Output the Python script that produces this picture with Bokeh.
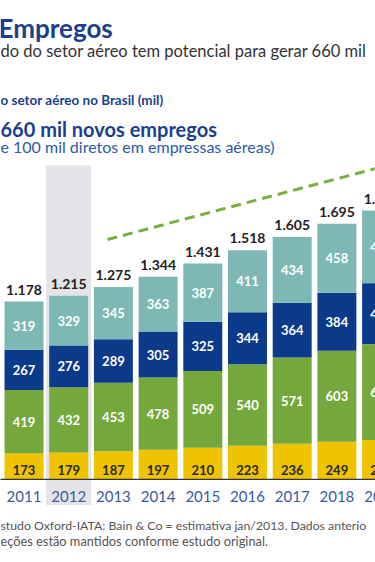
import numpy as np
from bokeh.plotting import figure
from bokeh.models import ColumnDataSource, Range1d, Label
from bokeh.core.properties import value
from bokeh.embed import file_html
from bokeh.resources import INLINE

# ---- data (thousand jobs) ----
years = ["2011", "2012", "2013", "2014", "2015", "2016", "2017", "2018", "2019"]
diretos = [173, 179, 187, 197, 210, 223, 236, 249, 262]
indiretos = [419, 432, 453, 478, 509, 540, 571, 603, 634]
induzidos = [267, 276, 289, 305, 325, 344, 364, 384, 404]
cataliticos = [319, 329, 345, 363, 387, 411, 434, 458, 481]
totals = ["1.178", "1.215", "1.275", "1.344", "1.431", "1.518", "1.605", "1.695", "1.781"]
highlight_year = "2012"

series = [diretos, indiretos, induzidos, cataliticos]
names = ["diretos", "indiretos", "induzidos", "cataliticos"]
colors = ["#F0C300", "#74A83C", "#0C3A8A", "#7DB8B4"]
label_colors = ["#2A2A2A", "#FFFFFF", "#FFFFFF", "#FFFFFF"]

FONT = "Lato"
W, H = 375, 562

x = np.arange(len(years), dtype=float)
data = dict(x=x)
for n, s in zip(names, series):
    data[n] = s
source = ColumnDataSource(data)

p = figure(width=W, height=H, output_backend="svg", toolbar_location=None,
           x_range=Range1d(-0.526, 7.864), y_range=Range1d(-550, 3172),
           min_border=0, min_border_left=0, min_border_right=0,
           min_border_top=0, min_border_bottom=0)
p.axis.visible = False
p.grid.visible = False
p.outline_line_color = None
p.background_fill_color = "white"
p.border_fill_color = "white"

# highlight band for 2012 (behind bar and its year label)
hi = years.index(highlight_year)
p.quad(left=[x[hi] - 0.505], right=[x[hi] + 0.505], top=[2080], bottom=[-170],
       fill_color="#E4E4E8", line_color=None)

# stacked bars
p.vbar_stack(names, x="x", width=0.872, color=colors, line_color=None, source=source)

# baseline
p.segment(x0=[-0.6], x1=[8.5], y0=[0], y1=[0], line_color="#333333", line_width=1.2)

# segment labels
arr = np.array(series, dtype=float)
cum = np.cumsum(arr, axis=0)
for k in range(len(series)):
    if k == 0:
        ys = np.full(len(years), 62.0)
    else:
        ys = cum[k] - arr[k] / 2
    p.text(x=x, y=ys, text=[str(v) for v in series[k]],
           text_align="center", text_baseline="middle",
           text_font=value(FONT), text_font_style="bold",
           text_font_size="13px", text_color=label_colors[k])

# totals
p.text(x=x, y=cum[-1] + 45, text=totals, text_align="center", text_baseline="bottom",
       text_font=value(FONT), text_font_style="bold", text_font_size="14px",
       text_color="#222222")

# year labels
p.text(x=x, y=np.full(len(years), -110.0), text=years, text_align="center",
       text_baseline="middle", text_font=value(FONT), text_font_size="15px",
       text_color="#3A5A9C")

# trend dashed line
p.segment(x0=[1.868], x1=[7.864], y0=[1589], y1=[2059], line_color="#7AAE3E",
          line_width=3, line_dash="10 6")

# texts
def lab(text, yc, size, color, bold=False, xpos=0):
    p.add_layout(Label(x=xpos, y=H - yc, x_units="screen", y_units="screen", text=text,
                       text_font=FONT, text_font_size=size,
                       text_font_style="bold" if bold else "normal",
                       text_color=color, text_baseline="middle"))

lab("Empregos", 27, "26px", "#1B3F8E", True, -2)
lab("do do setor aéreo tem potencial para gerar 660 mil", 50, "16.5px", "#333333")
lab("o setor aéreo no Brasil (mil)", 99, "13.5px", "#1B3F8E", True)
lab("660 mil novos empregos", 128, "20px", "#1B3F8E", True)
lab("e 100 mil diretos em empressas aéreas)", 146, "16px", "#2C5AA8")
lab("studo Oxford-IATA: Bain & Co = estimativa jan/2013. Dados anterio", 525, "12.3px", "#555555")
lab("eções estão mantidos conforme estudo original.", 540, "12.8px", "#555555")

open("out.html", "w").write(file_html(p, INLINE))
